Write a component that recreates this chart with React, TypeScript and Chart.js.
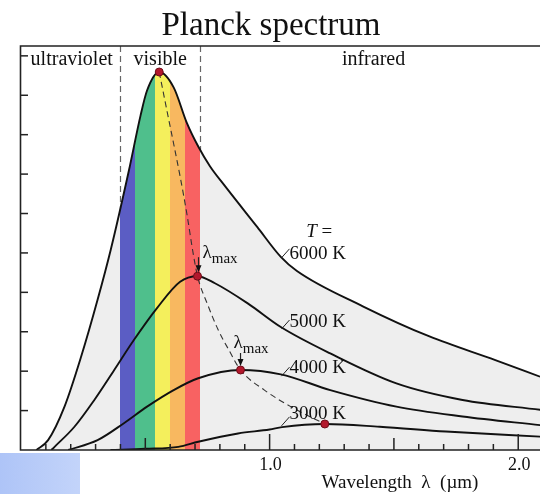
import React, { useEffect, useRef } from "react";
import { Chart, registerables } from "chart.js";

Chart.register(...registerables);

// ---- data ----
const lambda6000 = [0.062, 0.109, 0.175, 0.242, 0.308, 0.361, 0.434, 0.481, 0.507, 0.556, 0.614, 0.667, 0.713, 0.76, 0.82, 0.95, 1.045, 1.11, 1.377, 1.643, 1.908, 2.088];
const values6000 = [0, 0.25, 1.1, 2.37, 3.81, 5.08, 7.09, 8.49, 9.12, 9.59, 9.2, 8.3, 7.7, 7.2, 6.7, 5.66, 4.9, 4.54, 3.64, 2.88, 2.28, 1.86];

const lambda5000 = [0.122, 0.135, 0.215, 0.295, 0.375, 0.454, 0.547, 0.64, 0.71, 0.78, 0.912, 1.045, 1.244, 1.51, 1.776, 2.088];
const values5000 = [0, 0.08, 0.59, 1.27, 2.03, 2.79, 3.6, 4.27, 4.41, 4.23, 3.72, 3.12, 2.45, 1.69, 1.27, 1.02];

const lambda4000 = [0.19, 0.308, 0.414, 0.507, 0.614, 0.713, 0.883, 1.045, 1.244, 1.51, 1.776, 2.088];
const values4000 = [0, 0.25, 0.68, 1.1, 1.52, 1.82, 2.03, 1.92, 1.52, 1.1, 0.85, 0.63];

const lambda3000 = [0.36, 0.5, 0.633, 0.713, 0.873, 1.0, 1.05, 1.222, 1.443, 1.709, 2.088];
const values3000 = [0, 0.03, 0.08, 0.21, 0.42, 0.52, 0.58, 0.66, 0.59, 0.47, 0.34];

const lambdaWien = [0.556, 0.587, 0.614, 0.64, 0.667, 0.693, 0.71, 0.75, 0.793, 0.835, 0.883, 0.979, 1.085, 1.222];
const valuesWien = [9.59, 8.61, 7.77, 6.94, 6.0, 4.97, 4.41, 3.7, 3.05, 2.55, 2.03, 1.52, 1.1, 0.66];

const peakLambdas = [0.556, 0.71, 0.883, 1.222];
const peakValues = [9.59, 4.41, 2.03, 0.66];

const temperatureLabels = ["6000 K", "5000 K", "4000 K", "3000 K"];

const bandEdges = [0.4, 0.46, 0.54, 0.6, 0.66, 0.72];
const bandColors = ["#5b5dc4", "#4fbf8c", "#f4ef5c", "#f8b860", "#f86262"];
const visibleLimits = [0.4, 0.72];

const regionNames = ["ultraviolet", "visible", "infrared"];

const xMinorTicks = [0.1, 0.2, 0.3, 0.4, 0.6, 0.7, 0.8, 0.9, 1.1, 1.2, 1.3, 1.4, 1.6, 1.7, 1.8, 1.9];
const xMediumTicks = [0.5, 1.5];
const xMajorTicks = [1.0, 2.0];
const xTickLabels = ["1.0", "2.0"];
const yTicks = [1, 2, 3, 4, 5, 6, 7, 8, 9, 10];

const X_MAX = 2.0876;
const Y_MAX = 10.25;

const FILL_GRAY = "#eeeeee";
const SERIF = '"Liberation Serif", "Times New Roman", serif';

function toPoints(xs: number[], ys: number[]) {
  return xs.map((x, i) => ({ x, y: ys[i] }));
}

const decorPlugin = {
  id: "planckDecor",
  beforeDatasetsDraw(chart: any) {
    const { ctx, chartArea, scales } = chart;
    ctx.save();
    ctx.strokeStyle = "#666";
    ctx.lineWidth = 1.2;
    ctx.setLineDash([6, 4]);
    visibleLimits.forEach((v) => {
      const x = Math.round(scales.x.getPixelForValue(v)) + 0.5;
      ctx.beginPath();
      ctx.moveTo(x, chartArea.top);
      ctx.lineTo(x, chartArea.bottom);
      ctx.stroke();
    });
    ctx.restore();
  },
  afterDatasetsDraw(chart: any) {
    const { ctx, chartArea, scales } = chart;
    const xs = scales.x;
    const ys = scales.y;
    const L = chartArea.left;
    const R = chartArea.right;
    const T = chartArea.top;
    const B = chartArea.bottom;
    ctx.save();
    // frame
    ctx.strokeStyle = "#222";
    ctx.lineWidth = 1.6;
    ctx.setLineDash([]);
    ctx.beginPath();
    ctx.moveTo(R, T);
    ctx.lineTo(L - 0.5, T);
    ctx.lineTo(L - 0.5, B);
    ctx.lineTo(R, B);
    ctx.stroke();
    // ticks
    ctx.lineWidth = 1.5;
    const tick = (v: number, len: number) => {
      const x = xs.getPixelForValue(v);
      ctx.beginPath();
      ctx.moveTo(x, B);
      ctx.lineTo(x, B - len);
      ctx.stroke();
    };
    xMinorTicks.forEach((v) => tick(v, 6));
    xMediumTicks.forEach((v) => tick(v, 12));
    xMajorTicks.forEach((v) => tick(v, 16));
    yTicks.forEach((v) => {
      const y = ys.getPixelForValue(v);
      ctx.beginPath();
      ctx.moveTo(L, y);
      ctx.lineTo(L + 7, y);
      ctx.stroke();
    });

    ctx.fillStyle = "#111";
    ctx.textBaseline = "alphabetic";
    // title
    ctx.font = `33px ${SERIF}`;
    ctx.textAlign = "center";
    ctx.fillText("Planck spectrum", 271, 35);

    // region labels
    ctx.font = `20px ${SERIF}`;
    const regionY = T + 19;
    ctx.fillText(regionNames[0], (L + xs.getPixelForValue(visibleLimits[0])) / 2 + 1, regionY);
    ctx.fillText(regionNames[1], (xs.getPixelForValue(visibleLimits[0]) + xs.getPixelForValue(visibleLimits[1])) / 2, regionY);
    ctx.fillText(regionNames[2], xs.getPixelForValue(1.418), regionY);

    // x tick labels
    ctx.font = `18px ${SERIF}`;
    xMajorTicks.forEach((v, i) => {
      ctx.fillText(xTickLabels[i], xs.getPixelForValue(v) + 1, B + 20);
    });
    // axis title
    ctx.font = `19px ${SERIF}`;
    ctx.fillText("Wavelength  λ  (µm)", 400, B + 38);

    // temperature labels
    ctx.textAlign = "left";
    ctx.font = `19px ${SERIF}`;
    const labelX = xs.getPixelForValue(1.08);
    const labelBaselines = [4.85, 3.12, 1.95, 0.79];
    const leaderRise = [10, 7, 6, 2];
    temperatureLabels.forEach((t, i) => {
      const by = ys.getPixelForValue(labelBaselines[i]);
      ctx.fillText(t, labelX, by);
      ctx.lineWidth = 1;
      ctx.strokeStyle = "#222";
      ctx.beginPath();
      ctx.moveTo(labelX - 8, by - leaderRise[i] + 9);
      ctx.lineTo(labelX, by - leaderRise[i]);
      ctx.stroke();
    });
    // T =
    ctx.font = `italic 19px ${SERIF}`;
    const tX = xs.getPixelForValue(1.147);
    const tY = ys.getPixelForValue(5.41);
    ctx.fillText("T", tX, tY);
    const tw = ctx.measureText("T").width;
    ctx.font = `19px ${SERIF}`;
    ctx.fillText(" =", tX + tw, tY);

    // lambda max labels with arrows
    const lambdaMax = (x: number, y: number) => {
      ctx.font = `19px ${SERIF}`;
      ctx.fillText("λ", x, y);
      const w = ctx.measureText("λ").width;
      ctx.font = `15px ${SERIF}`;
      ctx.fillText("max", x + w, y + 5);
    };
    const arrow = (x: number, y1: number, y2: number) => {
      ctx.lineWidth = 1.2;
      ctx.beginPath();
      ctx.moveTo(x, y1);
      ctx.lineTo(x, y2 - 6);
      ctx.stroke();
      ctx.beginPath();
      ctx.moveTo(x - 3, y2 - 7);
      ctx.lineTo(x + 3, y2 - 7);
      ctx.lineTo(x, y2);
      ctx.closePath();
      ctx.fill();
    };
    const p1x = xs.getPixelForValue(peakLambdas[1]);
    const p1y = ys.getPixelForValue(peakValues[1]);
    lambdaMax(p1x + 5, p1y - 18);
    arrow(p1x + 1, p1y - 19, p1y - 4);
    const p2x = xs.getPixelForValue(peakLambdas[2]);
    const p2y = ys.getPixelForValue(peakValues[2]);
    lambdaMax(p2x - 7, p2y - 22);
    arrow(p2x, p2y - 17, p2y - 4);

    ctx.restore();
  },
};

export default function App() {
  const ref = useRef<HTMLCanvasElement | null>(null);

  useEffect(() => {
    if (!ref.current) return;
    const curveStyle = {
      borderColor: "#111",
      borderWidth: 1.9,
      pointRadius: 0,
      cubicInterpolationMode: "monotone" as const,
      fill: false,
    };
    const chart = new Chart(ref.current, {
      type: "line",
      data: {
        datasets: [
          {
            label: "peaks",
            data: toPoints(peakLambdas, peakValues),
            showLine: false,
            pointRadius: 4,
            pointBackgroundColor: "#b3182c",
            pointBorderColor: "#6e0c18",
            pointBorderWidth: 1,
            order: 0,
          } as any,
          {
            label: "λmax",
            data: toPoints(lambdaWien, valuesWien),
            borderColor: "#333",
            borderWidth: 1.1,
            borderDash: [6, 4],
            pointRadius: 0,
            cubicInterpolationMode: "monotone",
            fill: false,
            order: 1,
          },
          { label: temperatureLabels[3], data: toPoints(lambda3000, values3000), ...curveStyle, order: 2 },
          { label: temperatureLabels[2], data: toPoints(lambda4000, values4000), ...curveStyle, order: 3 },
          { label: temperatureLabels[1], data: toPoints(lambda5000, values5000), ...curveStyle, order: 4 },
          {
            label: temperatureLabels[0],
            data: toPoints(lambda6000, values6000),
            ...curveStyle,
            fill: "origin",
            order: 5,
            backgroundColor: (context: any) => {
              const c = context.chart;
              const area = c.chartArea;
              const sx = c.scales && c.scales.x;
              if (!area || !sx) return FILL_GRAY;
              const g = c.ctx.createLinearGradient(area.left, 0, area.right, 0);
              const w = area.right - area.left;
              const frac = (v: number) => Math.min(1, Math.max(0, (sx.getPixelForValue(v) - area.left) / w));
              g.addColorStop(0, FILL_GRAY);
              g.addColorStop(frac(bandEdges[0]), FILL_GRAY);
              for (let i = 0; i < bandColors.length; i++) {
                g.addColorStop(frac(bandEdges[i]), bandColors[i]);
                g.addColorStop(frac(bandEdges[i + 1]), bandColors[i]);
              }
              g.addColorStop(frac(bandEdges[bandEdges.length - 1]), FILL_GRAY);
              g.addColorStop(1, FILL_GRAY);
              return g;
            },
          } as any,
        ],
      },
      options: {
        animation: false,
        responsive: false,
        maintainAspectRatio: false,
        events: [],
        layout: { padding: { left: 21, right: 0, top: 46, bottom: 44 } },
        plugins: {
          legend: { display: false },
          title: { display: false },
          tooltip: { enabled: false },
        },
        scales: {
          x: { type: "linear", min: 0, max: X_MAX, display: false },
          y: { type: "linear", min: 0, max: Y_MAX, display: false },
        },
      },
      plugins: [decorPlugin],
    });
    return () => chart.destroy();
  }, []);

  return (
    <div style={{ position: "absolute", left: 0, top: 0, width: 545, height: 494, background: "#fff", overflow: "hidden" }}>
      <canvas ref={ref} width={545} height={494} style={{ display: "block" }} />
      <div
        style={{
          position: "absolute",
          left: 0,
          top: 453,
          width: 80,
          height: 41,
          background: "linear-gradient(90deg, #aec4f7, #c3d4fa)",
        }}
      />
    </div>
  );
}
